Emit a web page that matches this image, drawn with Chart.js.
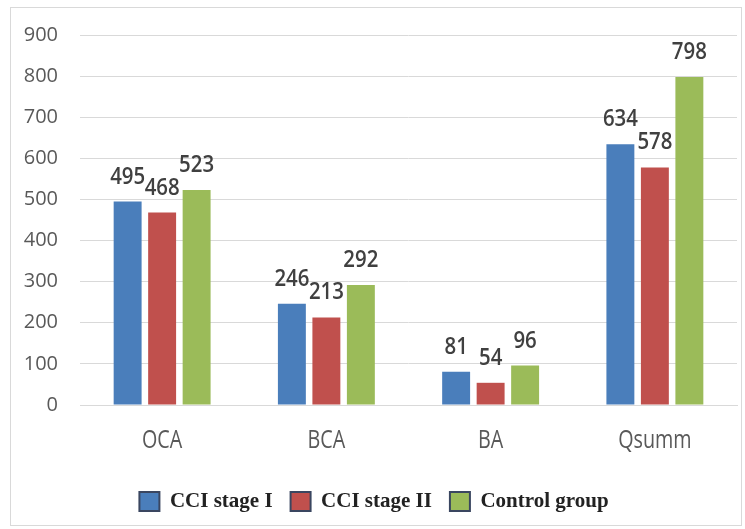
<!DOCTYPE html>
<html>
<head>
<meta charset="utf-8">
<script src="https://cdn.jsdelivr.net/npm/chart.js@4.4.0/dist/chart.umd.min.js"></script>
<style>
  html, body { margin: 0; padding: 0; background: #fff; }
  #frame {
    position: absolute; left: 10px; top: 7px;
    width: 730px; height: 517px;
    border: 1px solid #d9d9d9;
  }
</style>
</head>
<body>
<div id="frame"><canvas id="bar_chart"></canvas></div>
<script>
  const categories = ['OCA', 'BCA', 'BA', 'Qsumm'];
  const stage1 = [495, 246, 81, 634];
  const stage2 = [468, 213, 54, 578];
  const control = [523, 292, 96, 798];
  const seriesNames = ['CCI stage I', 'CCI stage II', 'Control group'];
  const colours = ['#4a7ebb', '#c0504d', '#9bbb59'];

  // narrow text helper (the original font is a condensed one)
  function narrowText(ctx, text, x, y, sx) {
    ctx.save();
    ctx.translate(x, y);
    ctx.scale(sx, 1);
    ctx.fillText(text, 0, 0);
    ctx.restore();
  }

  // value labels above each bar + category names under the axis
  const textLayer = {
    id: 'textLayer',
    afterDatasetsDraw(chart) {
      const ctx = chart.ctx;
      ctx.save();
      ctx.font = '600 24px "Open Sans"';
      ctx.fillStyle = '#404040';
      ctx.textAlign = 'center';
      ctx.textBaseline = 'alphabetic';
      chart.data.datasets.forEach((ds, i) => {
        chart.getDatasetMeta(i).data.forEach((bar, j) => {
          narrowText(ctx, ds.data[j], bar.x, bar.y - 18, 0.85);
        });
      });

      const xs = chart.scales.x;
      ctx.font = '26px "Open Sans"';
      ctx.fillStyle = '#595959';
      ctx.textBaseline = 'middle';
      categories.forEach((c, i) => {
        narrowText(ctx, c, xs.getPixelForValue(i), chart.chartArea.bottom + 36, 0.76);
      });
      ctx.restore();
    }
  };

  const chartData = {
    labels: categories,
    datasets: [stage1, stage2, control].map((d, i) => ({
      label: seriesNames[i],
      data: d,
      backgroundColor: colours[i],
      borderWidth: 0,
      categoryPercentage: 0.63,
      barPercentage: 0.81
    }))
  };

  const ctx = document.getElementById('bar_chart').getContext('2d');
  const chart = new Chart(ctx, {
    type: 'bar',
    data: chartData,
    plugins: [textLayer],
    options: {
      responsive: true,
      maintainAspectRatio: false,
      animation: false,
      layout: { padding: { top: 27, right: 4, bottom: 3, left: 0 } },
      plugins: {
        tooltip: { enabled: false },
        legend: {
          position: 'bottom',
          labels: {
            font: { family: '"Liberation Serif"', size: 21, weight: 'bold' },
            color: '#222',
            boxWidth: 20,
            boxHeight: 19,
            padding: 18,
            generateLabels(chart) {
              return chart.data.datasets.map((ds, i) => ({
                text: ds.label,
                fillStyle: colours[i],
                strokeStyle: '#3a4660',
                lineWidth: 2,
                fontColor: '#222',
                datasetIndex: i
              }));
            }
          }
        }
      },
      scales: {
        x: {
          afterFit(scale) { scale.height = 68; },
          grid: { display: false, drawTicks: false },
          border: { color: '#d9d9d9' },
          ticks: { display: false }
        },
        y: {
          min: 0,
          max: 900,
          afterFit(scale) {
            scale.width = 69;
            scale.paddingTop = 0;
            scale.paddingBottom = 0;
          },
          border: { display: false },
          grid: { color: '#d9d9d9', drawTicks: false },
          ticks: { stepSize: 100, font: { family: '"Open Sans"', size: 20 }, color: '#595959', padding: 22 }
        }
      }
    }
  });
</script>
</body>
</html>
